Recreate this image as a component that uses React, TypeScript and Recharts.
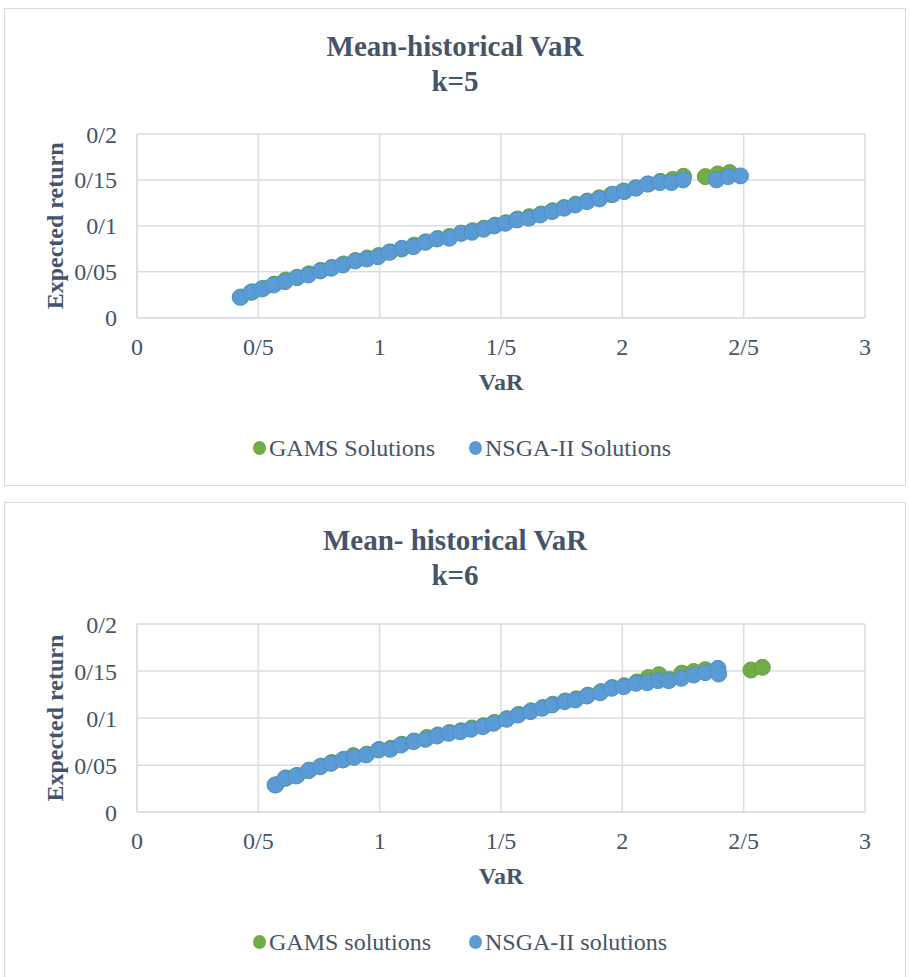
import { ScatterChart, Scatter, XAxis, YAxis, CartesianGrid, Label } from 'recharts'

// k=5 — GAMS
const gams5Var = [0.428, 0.475, 0.52, 0.566, 0.612, 0.66, 0.708, 0.757, 0.803, 0.851, 0.9, 0.949, 0.996, 1.043, 1.09, 1.142, 1.19, 1.239, 1.288, 1.335, 1.383, 1.43, 1.476, 1.52, 1.568, 1.617, 1.665, 1.713, 1.76, 1.808, 1.856, 1.905, 1.955, 2.005, 2.055, 2.107, 2.157, 2.207, 2.252, 2.342, 2.393, 2.442]
const gams5Ret = [0.0225, 0.0282, 0.032, 0.0366, 0.041, 0.044, 0.0478, 0.0515, 0.0548, 0.0585, 0.0622, 0.065, 0.0677, 0.0716, 0.0748, 0.079, 0.0826, 0.0862, 0.0885, 0.0921, 0.0948, 0.0975, 0.1008, 0.1034, 0.1075, 0.11, 0.113, 0.1165, 0.12, 0.1235, 0.127, 0.1305, 0.134, 0.138, 0.1415, 0.1455, 0.1485, 0.1505, 0.154, 0.1536, 0.1565, 0.158]
// k=5 — NSGA-II
const nsga5Var = [0.425, 0.47, 0.514, 0.562, 0.61, 0.659, 0.706, 0.755, 0.8, 0.848, 0.899, 0.947, 0.993, 1.039, 1.092, 1.139, 1.188, 1.236, 1.287, 1.336, 1.38, 1.428, 1.472, 1.517, 1.566, 1.614, 1.662, 1.71, 1.761, 1.806, 1.854, 1.906, 1.962, 2.008, 2.056, 2.104, 2.154, 2.202, 2.25, 2.388, 2.436, 2.487]
const nsga5Ret = [0.0222, 0.0277, 0.0313, 0.0356, 0.0392, 0.0436, 0.0465, 0.0509, 0.0538, 0.0574, 0.0618, 0.0639, 0.0664, 0.0712, 0.0756, 0.0773, 0.0821, 0.0857, 0.0865, 0.0919, 0.093, 0.0963, 0.0999, 0.1028, 0.1064, 0.1083, 0.1119, 0.1155, 0.1192, 0.1228, 0.1264, 0.1293, 0.1344, 0.1373, 0.141, 0.1456, 0.1471, 0.1471, 0.15, 0.15, 0.1536, 0.1544]

// k=6 — GAMS
const gams6Var = [0.572, 0.615, 0.66, 0.71, 0.758, 0.803, 0.852, 0.892, 0.947, 0.998, 1.046, 1.092, 1.142, 1.195, 1.24, 1.288, 1.335, 1.38, 1.428, 1.473, 1.525, 1.573, 1.624, 1.672, 1.714, 1.765, 1.81, 1.858, 1.912, 1.958, 2.008, 2.06, 2.107, 2.151, 2.195, 2.245, 2.294, 2.342, 2.53, 2.577]
const gams6Ret = [0.0292, 0.0365, 0.0392, 0.0448, 0.049, 0.0528, 0.0563, 0.0602, 0.0618, 0.0668, 0.068, 0.0722, 0.0758, 0.0795, 0.0822, 0.0848, 0.0866, 0.0895, 0.092, 0.0955, 0.0995, 0.104, 0.1078, 0.1112, 0.1148, 0.1183, 0.1205, 0.1245, 0.1282, 0.1325, 0.1345, 0.1385, 0.1432, 0.1462, 0.141, 0.1478, 0.1495, 0.1515, 0.1511, 0.154]
// k=6 — NSGA-II
const nsga6Var = [0.569, 0.61, 0.655, 0.706, 0.755, 0.799, 0.848, 0.895, 0.944, 0.995, 1.043, 1.087, 1.139, 1.188, 1.236, 1.284, 1.332, 1.376, 1.425, 1.469, 1.522, 1.57, 1.621, 1.669, 1.71, 1.762, 1.806, 1.854, 1.909, 1.955, 2.005, 2.056, 2.102, 2.147, 2.191, 2.243, 2.294, 2.342, 2.394, 2.397]
const nsga6Ret = [0.029, 0.0361, 0.0386, 0.0442, 0.0484, 0.052, 0.0556, 0.0584, 0.0609, 0.0662, 0.0669, 0.0715, 0.075, 0.0775, 0.081, 0.0839, 0.0856, 0.0882, 0.0909, 0.0945, 0.0988, 0.1033, 0.1069, 0.1105, 0.114, 0.1175, 0.1193, 0.1235, 0.127, 0.1317, 0.1334, 0.137, 0.1377, 0.1398, 0.1398, 0.1423, 0.1458, 0.1483, 0.1529, 0.1469]

const xTicks = [0, 0.5, 1, 1.5, 2, 2.5, 3]
const yTicks = [0, 0.05, 0.1, 0.15, 0.2]

const GREEN = '#70ad47'
const BLUE = '#5b9bd5'
const TEXT = '#44546a'
const GRID = '#d9dce1'
const FONT = "'Liberation Serif', 'Times New Roman', serif"

const toPoints = (xs: number[], ys: number[]) => xs.map((x, i) => ({ x, y: ys[i] }))
// decimal separator shown as "/"
const fmt = (v: number) => String(v).replace('.', '/')

const dot = (fill: string, stroke: string) => (p: any) => (
  <circle cx={p.cx} cy={p.cy} r={8} fill={fill} stroke={stroke} strokeWidth={1} />
)

function YTitle({ viewBox }: any) {
  const x = viewBox.x + 51
  const y = viewBox.y + viewBox.height / 2
  return (
    <text x={x} y={y} transform={`rotate(-90 ${x} ${y})`} textAnchor="middle" dominantBaseline="central"
      fill={TEXT} fontSize={24} fontWeight="bold" fontFamily={FONT}>
      Expected return
    </text>
  )
}

function LegendDot({ color, label, left }: { color: string; label: string; left: number }) {
  return (
    <div style={{ position: 'absolute', left, top: 0, display: 'flex', alignItems: 'center', whiteSpace: 'nowrap' }}>
      <span style={{ width: 13, height: 14, borderRadius: '50%', background: color, display: 'inline-block', marginRight: 3 }} />
      <span>{label}</span>
    </div>
  )
}

type PanelProps = {
  top: number
  title: string
  k: string
  gams: { x: number; y: number }[]
  nsga: { x: number; y: number }[]
  gamsName: string
  nsgaName: string
  plotTop: number
  plotBottom: number
}

function Panel({ top, title, k, gams, nsga, gamsName, nsgaName, plotTop, plotBottom }: PanelProps) {
  const W = 902
  const H = 478
  return (
    <div style={{ position: 'absolute', left: 4, top, width: W, height: H, background: '#fff', boxShadow: 'inset 0 0 0 1px #d9d9d9', fontFamily: FONT, color: TEXT }}>
      <div style={{ position: 'absolute', left: 0, width: W, top: 21, textAlign: 'center', fontWeight: 'bold', fontSize: 29, lineHeight: '35px' }}>
        <div>{title}</div>
        <div>{k}</div>
      </div>
      <div style={{ position: 'absolute', left: 0, top: 0 }}>
        <ScatterChart width={W} height={H} margin={{ top: plotTop, right: 41, left: 0, bottom: H - plotBottom - 72 }}>
          <CartesianGrid stroke={GRID} strokeWidth={1.5} />
          <XAxis type="number" dataKey="x" domain={[0, 3]} ticks={xTicks} tickFormatter={fmt} height={72}
            axisLine={{ stroke: GRID, strokeWidth: 1.5 }} tickLine={false} tickSize={0} tickMargin={20}
            tick={{ fill: TEXT, fontSize: 24, fontFamily: FONT }} interval={0}>
            <Label value="VaR" position="insideBottom" offset={0} fill={TEXT} fontSize={24} fontWeight="bold" fontFamily={FONT} />
          </XAxis>
          <YAxis type="number" dataKey="y" domain={[0, 0.2]} ticks={yTicks} tickFormatter={fmt} width={133}
            axisLine={{ stroke: GRID, strokeWidth: 1.5 }} tickLine={false} tickSize={0} tickMargin={20}
            tick={{ fill: TEXT, fontSize: 24, fontFamily: FONT }} interval={0}>
            <Label content={YTitle} />
          </YAxis>
          <Scatter name={gamsName} data={gams} shape={dot(GREEN, '#67a041')} isAnimationActive={false} />
          <Scatter name={nsgaName} data={nsga} shape={dot(BLUE, '#4f8fcb')} isAnimationActive={false} />
        </ScatterChart>
      </div>
      <div style={{ position: 'absolute', left: 0, top: 426, width: W, height: 28, fontSize: 24, lineHeight: '28px' }}>
        <LegendDot color={GREEN} label={gamsName} left={249} />
        <LegendDot color={BLUE} label={nsgaName} left={465} />
      </div>
    </div>
  )
}

export default function App() {
  return (
    <div style={{ position: 'fixed', left: 0, top: 0, width: 909, height: 977, overflow: 'hidden', background: '#fff' }}>
      <Panel top={8} title="Mean-historical VaR" k="k=5"
        gams={toPoints(gams5Var, gams5Ret)} nsga={toPoints(nsga5Var, nsga5Ret)}
        gamsName="GAMS Solutions" nsgaName="NSGA-II Solutions" plotTop={126} plotBottom={309.7} />
      <Panel top={502} title="Mean- historical VaR" k="k=6"
        gams={toPoints(gams6Var, gams6Ret)} nsga={toPoints(nsga6Var, nsga6Ret)}
        gamsName="GAMS solutions" nsgaName="NSGA-II solutions" plotTop={122} plotBottom={310.3} />
    </div>
  )
}
